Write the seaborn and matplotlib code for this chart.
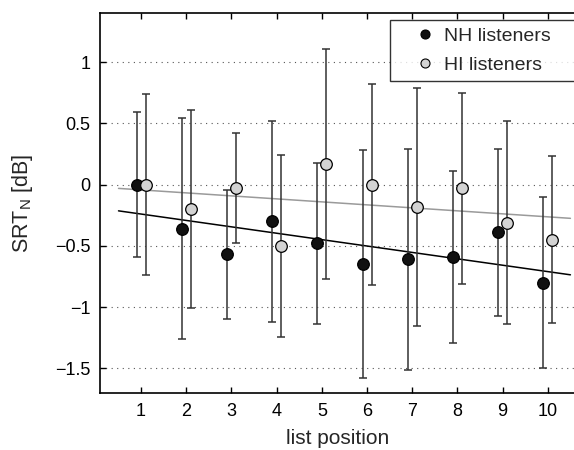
import numpy as np
import matplotlib
matplotlib.use("Agg")
import matplotlib.pyplot as plt
import seaborn as sns
from matplotlib.lines import Line2D

# -----------------------------
# DATA
# -----------------------------
positions = np.arange(1, 11)

nh_mean = [0.0, -0.36, -0.57, -0.30, -0.48, -0.65, -0.61, -0.59, -0.39, -0.80]
nh_sd = [0.59, 0.90, 0.53, 0.82, 0.66, 0.93, 0.90, 0.70, 0.68, 0.70]

hi_mean = [0.0, -0.20, -0.03, -0.50, 0.17, 0.0, -0.18, -0.03, -0.31, -0.45]
hi_sd = [0.74, 0.81, 0.45, 0.74, 0.94, 0.82, 0.97, 0.78, 0.83, 0.68]

groups = ["NH listeners", "HI listeners"]
yticks = [-1.5, -1, -0.5, 0, 0.5, 1]

# -----------------------------
# STYLE
# -----------------------------
sns.set_style("ticks")
plt.rcParams["font.family"] = ["Liberation Sans", "DejaVu Sans"]
plt.rcParams["mathtext.fontset"] = "custom"
plt.rcParams["mathtext.rm"] = "Liberation Sans"

fig = plt.figure(figsize=(5.74, 4.5), dpi=100)
ax = fig.add_axes([0.1742, 0.1267, 0.829, 0.8444])

# horizontal dotted grid
for y in yticks:
    ax.axhline(y, color="#555555", lw=0.8, ls=(0, (1, 4)), zorder=0)

# trend lines (linear fit on the means)
xfit = np.array([0.5, 10.5])
for means, col in [(nh_mean, "black"), (hi_mean, "#9a9a9a")]:
    k, d = np.polyfit(positions, means, 1)
    sns.lineplot(x=xfit, y=k * xfit + d, color=col, lw=1.1, ax=ax, zorder=2)

# error bars + markers
offsets = [-0.1, 0.1]
faces = ["#111111", "#d3d3d3"]
for means, sds, off, fc in zip([nh_mean, hi_mean], [nh_sd, hi_sd], offsets, faces):
    ax.errorbar(positions + off, means, yerr=sds, fmt="none", ecolor="#333333",
                elinewidth=1.1, capsize=3, capthick=1.1, zorder=3)
    sns.scatterplot(x=positions + off, y=means, color=fc, edgecolor="black",
                    linewidth=0.9, s=70, ax=ax, zorder=4)

ax.set_xlim(0.09, 10.62)
ax.set_ylim(-1.7, 1.4)
ax.set_xticks(positions)
ax.set_yticks(yticks)
ax.set_yticklabels([f"{v:g}".replace("-", "\u2212") for v in yticks])

ax.tick_params(direction="in", length=4, width=1, labelsize=13, pad=7,
               top=True, colors="black")
for s in ax.spines.values():
    s.set_linewidth(1.2)
    s.set_color("black")

ax.set_xlabel("list position", fontsize=15, labelpad=7)
ax.set_ylabel(r"SRT$_\mathregular{N}$ [dB]", fontsize=15.5, labelpad=14)

handles = [Line2D([], [], ls="none", marker="o", markersize=6.5,
                  markerfacecolor=fc, markeredgecolor="black", markeredgewidth=0.8)
           for fc in faces]
leg = ax.legend(handles, groups, loc="upper left", mode="expand", fontsize=14,
                frameon=True, fancybox=False, edgecolor="black", borderpad=0.4,
                handlelength=2.8, handletextpad=-0.4, labelspacing=0.55,
                bbox_to_anchor=(0.609, 0.982, 0.45, 0), borderaxespad=0)
leg.get_frame().set_linewidth(1.0)

fig.savefig("out.png", dpi=100)
